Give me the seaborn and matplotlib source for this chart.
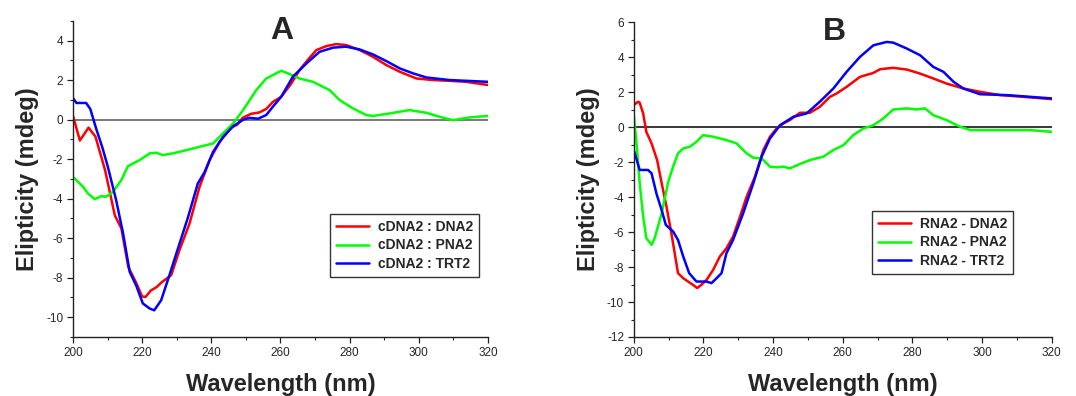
import matplotlib
matplotlib.use("Agg")
import matplotlib.pyplot as plt
from matplotlib.ticker import MultipleLocator
import numpy as np
import pandas as pd
import seaborn as sns

# ---- panel A : cDNA2 duplexes ----
a_red_wl = [200, 202, 204.5, 206.5, 209.3, 212.1, 214, 216, 218.4, 220, 221, 222.5, 224.2,
            225.5, 228.4, 230.8, 233.7, 236.6, 239.5, 242.4, 245.8, 247.5, 249.1, 251.5, 253.9,
            255.9, 257.8, 260.2, 263, 265.5, 268, 270.4, 273.3, 276.1, 279, 282.9, 286.7, 290.6,
            294.5, 299.3, 304.1, 309, 313.7, 320]
a_red = [0.2, -1.05, -0.4, -0.85, -2.56, -4.84, -5.5, -7.45, -8.3, -8.95, -8.97, -8.65, -8.47,
         -8.25, -7.87, -6.6, -5.26, -3.4, -2.05, -1.12, -0.4, -0.25, 0.1, 0.3, 0.37,
         0.55, 0.9, 1.16, 1.8, 2.51, 3.05, 3.53, 3.73, 3.83, 3.78, 3.53, 3.19, 2.77,
         2.43, 2.09, 2.01, 1.97, 1.92, 1.76]

a_green_wl = [200, 202.9, 204.3, 206.3, 208.2, 209.6, 211.6, 214, 215.9, 219.3, 222.2, 224.1,
              226, 228.9, 232.8, 236.6, 240.5, 243.4, 246.3, 249.2, 253, 255.9, 260.2, 262.7,
              265.5, 269.4, 274.2, 277.1, 281, 284.8, 286.7, 291.6, 297.3, 302.2, 306, 309.9,
              314.7, 320]
a_green = [-2.89, -3.39, -3.73, -4.02, -3.87, -3.9, -3.65, -3.05, -2.35, -2.04, -1.7, -1.67,
           -1.79, -1.7, -1.54, -1.37, -1.2, -0.69, -0.19, 0.49, 1.5, 2.09, 2.48, 2.31,
           2.09, 1.92, 1.5, 1.0, 0.57, 0.24, 0.19, 0.32, 0.49, 0.35, 0.15, -0.02,
           0.12, 0.19]

a_blue_wl = [200, 201, 203.8, 205, 206.8, 208.5, 210.1, 212.5, 214.5, 216.4, 218.3, 220.2,
             222.2, 223.5, 225.5, 227.9, 229.9, 233.3, 236.1, 238.1, 240.5, 243.4, 246.3,
             249.2, 251, 253.5, 255.9, 257.8, 260.2, 263.6, 267.5, 271.3, 275.2, 279, 282.9,
             286.7, 290.6, 294.5, 298.3, 302.2, 308.9, 320]
a_blue = [1.1, 0.85, 0.85, 0.55, -0.5, -1.4, -2.39, -4.08, -5.76, -7.7, -8.4, -9.3,
          -9.56, -9.65, -9.14, -7.87, -6.77, -4.92, -3.23, -2.64, -1.63, -0.87, -0.33,
          0.0, 0.1, 0.05, 0.24, 0.66, 1.16, 2.18, 2.85, 3.44, 3.65, 3.7, 3.56,
          3.31, 2.97, 2.6, 2.35, 2.14, 2.01, 1.92]

# ---- panel B : RNA2 duplexes ----
b_red_wl = [200, 201.2, 201.7, 202.7, 203.6, 205.1, 206.7, 208, 209.4, 210.8, 212.7, 214.2,
            215.6, 217, 218.2, 219.4, 220.9, 222.8, 224.7, 226.6, 228.5, 230.5, 232.4, 234.8,
            237.2, 239.1, 241, 242.9, 244.8, 247.7, 250.6, 253.4, 256.3, 258.2, 261.1, 264.9,
            268.8, 270.7, 274.5, 278.4, 282.2, 286, 289.8, 294.6, 299.4, 305.2, 311.9, 320]
b_red = [1.26, 1.45, 1.4, 0.78, -0.27, -0.93, -1.88, -3.2, -4.55, -6.07, -8.35, -8.64,
         -8.83, -9.02, -9.2, -9.02, -8.73, -8.16, -7.4, -6.93, -6.26, -5.12, -3.98, -2.83,
         -1.31, -0.55, -0.08, 0.21, 0.4, 0.82, 0.82, 1.16, 1.73, 1.92, 2.3, 2.87,
         3.1, 3.31, 3.39, 3.29, 3.06, 2.78, 2.49, 2.21, 2.02, 1.83, 1.73, 1.6]

b_green_wl = [200, 200.8, 201.7, 202.7, 203.6, 205.1, 206, 208, 209.9, 211.3, 212.7, 214.2,
              216.1, 218, 219.9, 222.8, 226.6, 229.5, 232.4, 234.3, 236.7, 239.1, 241, 242.9,
              244.8, 247.7, 250.6, 254.4, 257.3, 260.2, 263, 265.9, 268.8, 271.6, 274.5, 278.4,
              281.2, 283.6, 286, 289.8, 293.7, 296.6, 301.3, 307.1, 313.8, 320]
b_green = [0.68, -0.93, -3.2, -5.12, -6.35, -6.73, -6.35, -4.93, -3.12, -2.26, -1.5, -1.22,
           -1.12, -0.84, -0.46, -0.55, -0.74, -0.93, -1.5, -1.75, -1.79, -2.26, -2.3, -2.26,
           -2.36, -2.11, -1.88, -1.69, -1.31, -1.03, -0.46, -0.08, 0.11, 0.49, 1.01, 1.07,
           1.01, 1.07, 0.68, 0.4, 0.02, -0.17, -0.17, -0.17, -0.17, -0.27]

b_blue_wl = [200, 201.7, 204.1, 205.1, 206.5, 208, 209.2, 211.3, 212.7, 214.2, 215.9, 218,
             220.9, 222.3, 223.3, 225.2, 226.6, 228.5, 231.4, 234.3, 236.7, 239.1, 242, 245.8,
             249.6, 253.4, 257.3, 261.1, 264.9, 268.8, 272.6, 274.5, 278.4, 282.2, 286, 288.9,
             291.8, 294.6, 299.4, 307.1, 320]
b_blue = [-1.31, -2.45, -2.45, -2.64, -3.79, -4.74, -5.59, -5.97, -6.45, -7.4, -8.35, -8.83,
          -8.83, -8.92, -8.73, -8.35, -7.21, -6.45, -4.93, -3.22, -1.69, -0.65, 0.11, 0.59,
          0.78, 1.45, 2.21, 3.16, 4.01, 4.68, 4.87, 4.83, 4.49, 4.11, 3.44, 3.16,
          2.59, 2.21, 1.88, 1.83, 1.64]

a_labels = ["cDNA2 : DNA2", "cDNA2 : PNA2", "cDNA2 : TRT2"]
b_labels = ["RNA2 - DNA2", "RNA2 - PNA2", "RNA2 - TRT2"]
colors = ["#ff0000", "#00ff00", "#0000ff"]

sns.set_style("ticks")
plt.rcParams['font.family'] = ['Liberation Sans', 'DejaVu Sans']
plt.rcParams['axes.unicode_minus'] = False
plt.rcParams['xtick.direction'] = 'out'
plt.rcParams['ytick.direction'] = 'out'

fig = plt.figure(figsize=(10.76, 3.96), dpi=100)
axA = fig.add_axes([0.0678, 0.149, 0.3857, 0.798])
axB = fig.add_axes([0.589, 0.149, 0.3885, 0.795])


def draw_panel(ax, series, labels, ylim, letter, letter_x, zero_color, leg_anchor):
    for (wl, vals), lab, col in zip(series, labels, colors):
        df = pd.DataFrame({"wl": wl, "val": vals})
        sns.lineplot(data=df, x="wl", y="val", color=col, linewidth=1.8, label=lab, ax=ax)
    ax.axhline(0, color=zero_color, linewidth=1.1, zorder=0)
    ax.set_xlim(200, 320)
    ax.set_ylim(*ylim)
    ax.xaxis.set_major_locator(MultipleLocator(20))
    ax.xaxis.set_minor_locator(MultipleLocator(10))
    ax.yaxis.set_major_locator(MultipleLocator(2))
    ax.yaxis.set_minor_locator(MultipleLocator(1))
    ax.tick_params(which='major', length=4, width=0.9, labelsize=8.5, pad=3, color='#222')
    ax.tick_params(which='minor', length=2, width=0.8, color='#222')
    sns.despine(ax=ax)
    for sp in ['left', 'bottom']:
        ax.spines[sp].set_color('#222')
        ax.spines[sp].set_linewidth(1.0)
    ax.set_xlabel("Wavelength (nm)", fontsize=17, fontweight='bold', labelpad=10)
    ax.set_ylabel("Elipticity (mdeg)", fontsize=17, fontweight='bold', labelpad=5)
    ax.text(letter_x, 0.968, letter, transform=ax.transAxes, ha='center', va='center',
            fontsize=23, fontweight='bold')
    ax.legend(loc='upper left', bbox_to_anchor=leg_anchor, borderaxespad=0,
              prop={'weight': 'bold', 'size': 10}, handlelength=2.4, labelspacing=0.3,
              fancybox=False, framealpha=1, edgecolor='#333', borderpad=0.45,
              handletextpad=0.6)
    ax.legend_.get_frame().set_linewidth(1.0)


draw_panel(axA, [(a_red_wl, a_red), (a_green_wl, a_green), (a_blue_wl, a_blue)],
           a_labels, (-11, 5), "A", 0.504, '#555555', (0.619, 0.389))
draw_panel(axB, [(b_red_wl, b_red), (b_green_wl, b_green), (b_blue_wl, b_blue)],
           b_labels, (-12, 6), "B", 0.48, '#000000', (0.569, 0.40))

fig.savefig("out.png", dpi=100)
